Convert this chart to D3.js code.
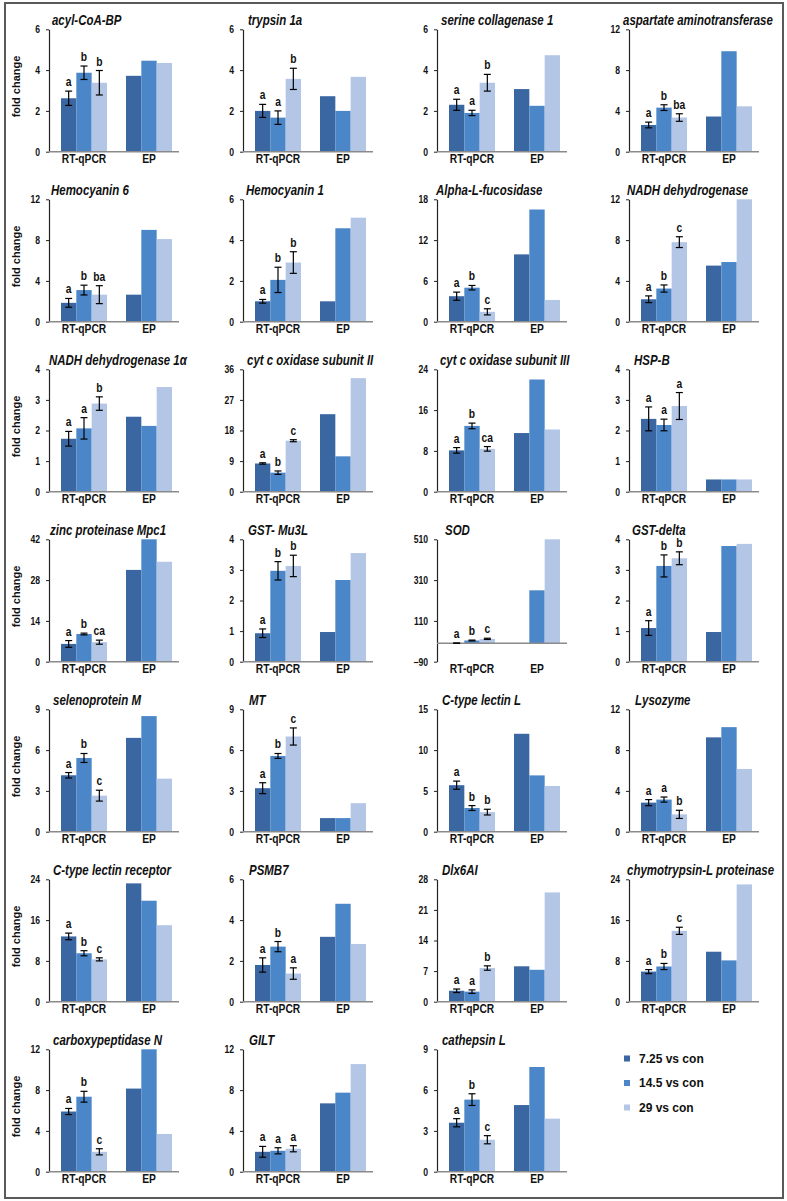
<!DOCTYPE html>
<html><head><meta charset="utf-8">
<script src="https://cdn.jsdelivr.net/npm/d3@7"></script>
<style>body{margin:0;background:#fff}</style>
</head><body><svg id="c" width="787" height="1201"></svg>
<script>
// ---------- DATA ----------
const seriesNames = ["7.25 vs con", "14.5 vs con", "29 vs con"];
const groups = ["RT-qPCR", "EP"];
const genes = [
  "acyl-CoA-BP", "trypsin 1a", "serine collagenase 1", "aspartate aminotransferase",
  "Hemocyanin 6", "Hemocyanin 1", "Alpha-L-fucosidase", "NADH dehydrogenase",
  "NADH dehydrogenase 1\u03b1", "cyt  c oxidase subunit II", "cyt c oxidase subunit III", "HSP-B",
  "zinc proteinase Mpc1", "GST- Mu3L", "SOD", "GST-delta",
  "selenoprotein M", "MT", "C-type lectin L", "Lysozyme",
  "C-type lectin receptor", "PSMB7", "Dlx6AI", "chymotrypsin-L proteinase",
  "carboxypeptidase N", "GILT", "cathepsin L"
];
const yTicks = [
  [0,2,4,6], [0,2,4,6], [0,2,4,6], [0,4,8,12],
  [0,4,8,12], [0,2,4,6], [0,6,12,18], [0,4,8,12],
  [0,1,2,3,4], [0,9,18,27,36], [0,8,16,24], [0,1,2,3,4],
  [0,14,28,42], [0,1,2,3,4], [-90,110,310,510], [0,1,2,3,4],
  [0,3,6,9], [0,3,6,9], [0,5,10,15], [0,4,8,12],
  [0,8,16,24], [0,2,4,6], [0,7,14,21,28], [0,8,16,24],
  [0,4,8,12], [0,4,8,12], [0,3,6,9]
];
const rtMeans = [
  [2.62,3.87,3.38], [2.0,1.67,3.57], [2.3,1.9,3.38], [2.62,4.32,3.35],
  [1.85,3.1,2.65], [1.0,2.05,2.9], [3.75,5.0,1.45], [2.2,3.25,7.8],
  [1.73,2.07,2.88], [8.3,5.6,15.0], [8.1,12.9,8.4], [2.38,2.18,2.8],
  [6.1,9.5,6.7], [0.93,2.97,3.13], [1,14,22], [1.1,3.13,3.38],
  [4.15,5.42,2.65], [3.2,5.57,7.0], [5.7,2.9,2.4], [2.85,3.15,1.7],
  [12.8,9.5,8.3], [1.8,2.7,1.38], [2.5,2.3,7.7], [5.9,6.9,13.9],
  [5.9,7.35,1.95], [1.95,2.05,2.25], [3.6,5.3,2.35]
];
const rtSD = [
  [0.35,0.33,0.6], [0.32,0.33,0.52], [0.27,0.13,0.41], [0.28,0.28,0.37],
  [0.43,0.48,0.88], [0.09,0.62,0.53], [0.6,0.33,0.45], [0.33,0.35,0.53],
  [0.24,0.35,0.22], [0.2,0.5,0.3], [0.55,0.55,0.45], [0.39,0.19,0.44],
  [1.15,0.3,0.7], [0.14,0.3,0.35], [0.5,2,3], [0.24,0.36,0.21],
  [0.2,0.33,0.4], [0.4,0.18,0.63], [0.5,0.3,0.35], [0.3,0.25,0.4],
  [0.65,0.5,0.3], [0.35,0.25,0.28], [0.4,0.4,0.5], [0.4,0.6,0.7],
  [0.3,0.53,0.3], [0.53,0.3,0.3], [0.3,0.43,0.3]
];
const epValues = [
  [3.72,4.46,4.35], [2.72,2.0,3.67], [3.07,2.25,4.73], [3.45,9.85,4.45],
  [2.65,9.0,8.1], [1.0,4.58,5.1], [9.9,16.5,3.2], [5.5,5.85,12.0],
  [2.45,2.15,3.42], [22.8,10.4,33.4], [11.5,22.0,12.2], [0.4,0.4,0.4],
  [31.5,42,34.3], [0.97,2.67,3.55], [0,260,510], [0.97,3.78,3.85],
  [6.9,8.5,3.9], [1.0,1.0,2.1], [12.0,6.9,5.6], [9.25,10.25,6.15],
  [23.2,19.8,15.0], [3.18,4.8,2.83], [8.1,7.3,25.0], [9.8,8.1,23.0],
  [8.15,12.0,3.7], [6.7,7.75,10.55], [4.9,7.7,3.9]
];
const sigLetters = [
  ["a","b","b"], ["a","a","b"], ["a","a","b"], ["a","b","ba"],
  ["a","b","ba"], ["a","b","b"], ["a","b","c"], ["a","b","c"],
  ["a","a","b"], ["a","b","c"], ["a","b","ca"], ["a","a","a"],
  ["a","b","ca"], ["a","b","b"], ["a","b","c"], ["a","b","b"],
  ["a","b","c"], ["a","b","c"], ["a","b","b"], ["a","a","b"],
  ["a","b","c"], ["a","b","a"], ["a","a","b"], ["a","b","c"],
  ["a","b","c"], ["a","a","a"], ["a","b","c"]
];

// ---------- LAYOUT / STYLE ----------
const colors = ["#3A66A2", "#4A86C8", "#B4C6E6"];
const colX = [49, 243, 437, 629];
const rowTop0 = 29.3, rowStep = 170, plotH = 122.4, plotW = 130;
const titleDx = [3,5,4,-6, 2,3,-1,-2, 0,4,3,5, 1,5,8,3, 4,6,5,6, 4,6,5,-2, 4,6,5];
const font = "'Liberation Sans',Arial,sans-serif";
const squeeze = 0.82;

// compress text horizontally about its anchor x to mimic a narrow face
function narrowText(sel) {
  sel.each(function() {
    const x = +(this.getAttribute("x") || 0);
    d3.select(this).attr("transform", `translate(${x},0) scale(${squeeze},1) translate(${-x},0)`);
  });
}

const svg = d3.select("#c");
svg.append("rect").attr("x",5).attr("y",3).attr("width",778).attr("height",1195)
  .attr("fill","none").attr("stroke","#5a5a5a").attr("stroke-width",2);

const xg = d3.scalePoint().domain(groups).range([35, 100]);
const xs = d3.scaleBand().domain(seriesNames).range([-23, 23]);

genes.forEach((gene, i) => {
  const r = Math.floor(i / 4), c = i % 4;
  const top = rowTop0 + rowStep * r;
  const ticks = yTicks[i];
  const y = d3.scaleLinear().domain([ticks[0], ticks[ticks.length-1]]).range([plotH, 0]);
  const g = svg.append("g").attr("transform", `translate(${colX[c]},${top})`);

  const rows = [];
  seriesNames.forEach((s, k) => {
    rows.push({group: groups[0], s, k, v: rtMeans[i][k], sd: rtSD[i][k], lab: sigLetters[i][k]});
    rows.push({group: groups[1], s, k, v: epValues[i][k]});
  });

  g.selectAll("rect.bar").data(rows).join("rect").attr("class","bar")
    .attr("x", d => xg(d.group) + xs(d.s))
    .attr("width", xs.bandwidth())
    .attr("y", d => Math.min(y(d.v), y(0)))
    .attr("height", d => Math.abs(y(0) - y(d.v)))
    .attr("fill", d => colors[d.k]);

  const ax = g.append("g").call(d3.axisLeft(y).tickValues(ticks).tickSize(3).tickSizeOuter(0).tickPadding(6).tickFormat(d3.format("d")));
  ax.select(".domain").attr("stroke","#222").attr("stroke-width",1.2);
  ax.selectAll(".tick line").attr("stroke","#222");
  ax.selectAll("text").attr("font-family", font).attr("font-weight","bold").attr("font-size",10.5).attr("fill","#111").call(narrowText);

  g.append("line").attr("x1",0).attr("x2",plotW).attr("y1",y(0)).attr("y2",y(0))
    .attr("stroke","#8a8a8a").attr("stroke-width",1.5);

  rows.filter(d => d.sd !== undefined).forEach(d => {
    const cx = xg(d.group) + xs(d.s) + xs.bandwidth()/2;
    const y1 = y(d.v - d.sd), y2 = y(d.v + d.sd);
    g.append("line").attr("x1",cx).attr("x2",cx).attr("y1",y1).attr("y2",y2).attr("stroke","#000").attr("stroke-width",1.2);
    [y1,y2].forEach(yy => g.append("line").attr("x1",cx-3.5).attr("x2",cx+3.5).attr("y1",yy).attr("y2",yy).attr("stroke","#000").attr("stroke-width",1.2));
    g.append("text").attr("x",cx).attr("y",y2-5).attr("text-anchor","middle")
      .attr("font-family",font).attr("font-weight","bold").attr("font-size",12.5).attr("fill","#111").text(d.lab).call(narrowText);
  });

  groups.forEach(gr => {
    g.append("text").attr("x", xg(gr)).attr("y", plotH + 11).attr("text-anchor","middle")
      .attr("font-family",font).attr("font-weight","bold").attr("font-size",12.5).attr("fill","#111").text(gr).call(narrowText);
  });

  g.append("text").attr("x", titleDx[i]).attr("y", -4)
    .attr("font-family",font).attr("font-weight","bold").attr("font-style","italic")
    .attr("font-size",14).attr("fill","#111").text(gene).call(narrowText);

  if (c === 0) {
    svg.append("text").attr("transform",`translate(20,${top + plotH/2 - 4}) rotate(-90)`)
      .attr("text-anchor","middle").attr("font-family",font).attr("font-weight","bold")
      .attr("font-size",11).attr("fill","#111").text("fold change");
  }
});

const lg = svg.append("g");
seriesNames.forEach((s, k) => {
  const cy = 1058 + 24.5 * k;
  lg.append("rect").attr("x",624).attr("y",cy-2.5).attr("width",6).attr("height",6).attr("fill",colors[k]);
  lg.append("text").attr("x",639).attr("y",cy+4.5).attr("font-family",font).attr("font-weight","bold")
    .attr("font-size",12).attr("fill","#111").text(s);
});
</script>
</body></html>
